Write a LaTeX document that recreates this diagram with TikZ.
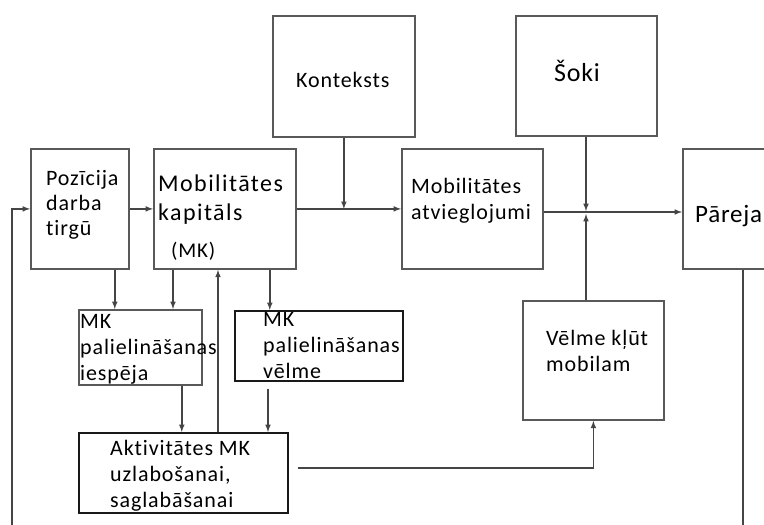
\documentclass[tikz,border=0pt]{standalone}
\usepackage{fontspec}
\setmainfont{Carlito}[LetterSpace=4,Ligatures=NoCommon]
\newfontfamily\wideCarlito{Carlito}[LetterSpace=6,Ligatures=NoCommon]
\newfontfamily\bigCarlito{Carlito}[LetterSpace=3,Ligatures=NoCommon]
\usetikzlibrary{arrows,positioning}
\definecolor{boxgray}{HTML}{595959}
\definecolor{linegray}{HTML}{454545}

\begin{document}
\begin{tikzpicture}[x=1pt,y=-1pt,
  box/.style={draw=boxgray,line width=1.8pt,anchor=north west,inner sep=0pt},
  darkbox/.style={box,draw=black!90,line width=1.5pt},
  txt/.style={anchor=base west,inner sep=0pt,align=left,font=\fontsize{22}{26}\selectfont},
  link/.style={draw=linegray,line width=1.5pt}]
\useasboundingbox (0,0) rectangle (764,525);

\node[box,minimum width=98pt,minimum height=120pt] (poz) at (30,148) {};
\node[box,minimum width=142pt,minimum height=120pt] (mk) at (153,148) {};
\node[box,minimum width=142pt,minimum height=121pt] (kont) at (272,15) {};
\node[box,minimum width=141pt,minimum height=120pt] (atv) at (401,148) {};
\node[box,minimum width=141pt,minimum height=120pt] (soki) at (515,15) {};
\node[box,minimum width=100pt,minimum height=120pt] (pareja) at (682,148) {};
\node[box,minimum width=123pt,minimum height=75pt] (iesp) at (78,309) {};
\node[darkbox,minimum width=168pt,minimum height=70pt] (velm) at (234,310) {};
\node[darkbox,minimum width=209pt,minimum height=80pt] (akt) at (78,432) {};
\node[box,minimum width=141pt,minimum height=119pt] (klut) at (522,300) {};

\node[txt] (poz-t) at ([shift={(16pt,-87pt)}]poz.north west) {Pozīcija\\[-1pt]darba\\[-1pt]tirgū};
\node[txt,font=\wideCarlito\fontsize{24}{29}\selectfont] (mk-t) at ([shift={(5pt,-109pt)}]mk.north west)
  {Mobilitātes\\kapitāls\\[8pt]\hspace*{13pt}{\normalfont\fontsize{21}{26}\selectfont(MK)}};
\node[txt] (kont-t) at ([shift={(24pt,-72pt)}]kont.north west) {Konteksts};
\node[txt] (atv-t) at ([shift={(10pt,-71pt)}]atv.north west) {Mobilitātes\\atvieglojumi};
\node[txt,font=\bigCarlito\fontsize{26}{30}\selectfont] (soki-t) at ([shift={(39pt,-66pt)}]soki.north west) {Šoki};
\node[txt,font=\bigCarlito\fontsize{25}{30}\selectfont] (pareja-t) at ([shift={(13pt,-74pt)}]pareja.north west) {Pāreja};
\node[txt] (iesp-t) at ([shift={(2pt,-71pt)}]iesp.north west) {MK\\palielināšanas\\iespēja};
\node[txt] (velm-t) at ([shift={(29pt,-68pt)}]velm.north west) {MK\\palielināšanas\\vēlme};
\node[txt] (akt-t) at ([shift={(32pt,-75pt)}]akt.north west) {Aktivitātes MK\\uzlabošanai,\\saglabāšanai};
\node[txt] (klut-t) at ([shift={(24pt,-71pt)}]klut.north west) {Vēlme kļūt\\mobilam};

\coordinate (fbL) at (12,525);
\coordinate (fbR) at (743,525);
\coordinate (cross) at (586,212);
\coordinate (d1) at ([xshift=-15pt]poz.south east);
\coordinate (d2) at ([xshift=20pt]mk.south west);
\coordinate (d3) at ([xshift=-27pt]mk.south east);
\coordinate (u1) at ([xshift=140pt]akt.north west);
\coordinate (d4) at ([xshift=-21pt]iesp.south east);
\coordinate (d5) at ([shift={(34pt,-7pt)}]velm.south west);
\coordinate (r1) at ([shift={(9pt,5pt)}]akt.east);

\draw[link,-latex] (fbL) |- (poz.west);
\draw[link,-latex] (poz.east) -- (mk.west);
\draw[link,-latex] (mk.east) -- (atv.west);
\draw[link,-latex] (kont.south) -- (kont.south |- mk.east);
\draw[link,-latex] (atv.east |- cross) -- (pareja.west |- cross);
\draw[link,-latex] (cross |- soki.south) -- ([yshift=1pt]cross);
\draw[link,-latex] (cross |- klut.north) -- ([yshift=-2pt]cross);
\draw[link] (fbR |- pareja.south) -- (fbR);
\draw[link,-latex] (d1) -- (d1 |- iesp.north);
\draw[link,-latex] (d2) -- (d2 |- iesp.north);
\draw[link,-latex] (d3) -- (d3 |- velm.north);
\draw[link,-latex] (u1) -- (u1 |- mk.south);
\draw[link,-latex] (d4) -- (d4 |- akt.north);
\draw[link,-latex] (d5) -- (d5 |- akt.north);
\draw[link,-latex] (r1) -| (klut.south);
\end{tikzpicture}
\end{document}
